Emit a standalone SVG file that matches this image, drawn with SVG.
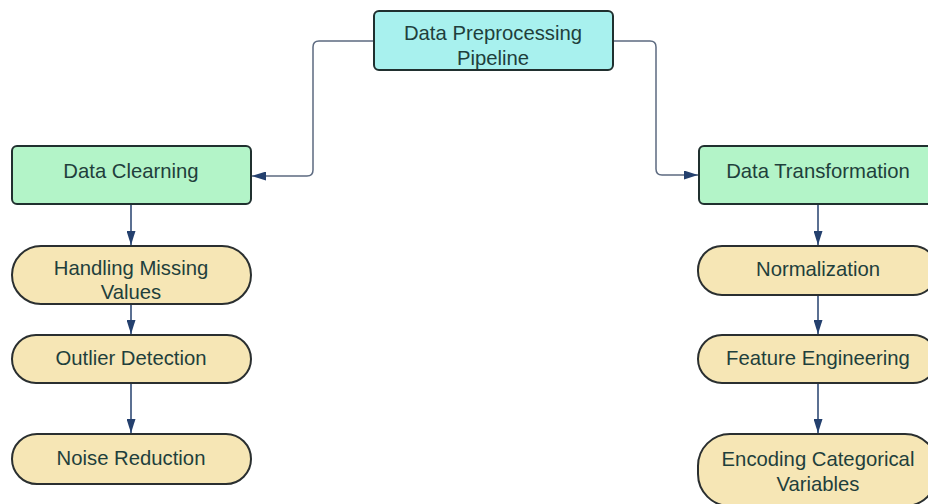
<svg xmlns="http://www.w3.org/2000/svg" width="928" height="504" viewBox="0 0 928 504">
<defs>
<marker id="ah" viewBox="0 0 14 9" refX="14" refY="4.5" markerWidth="14" markerHeight="9" markerUnits="userSpaceOnUse" orient="auto">
<path d="M0,0 L14,4.5 L0,9 z" fill="#24406e"/>
</marker>
<style>
.t{font-family:"Liberation Sans",Arial,sans-serif;font-size:20.3px;fill:#1f3f3c;text-anchor:middle}
.cyan{fill:#a8f1ee;stroke:#20302f;stroke-width:2}
.green{fill:#b3f4c8;stroke:#20302f;stroke-width:2}
.pill{fill:#f6e6b5;stroke:#2a2f30;stroke-width:2}
.c{fill:none;stroke:#5c6a80;stroke-width:1.5}
.a{fill:none;stroke:#24406e;stroke-width:1.5}
</style>
</defs>
<rect width="928" height="504" fill="#ffffff"/>
<g id="connectors">
<path class="c" d="M374,41 H319 Q313,41 313,47 V170 Q313,176 307,176 H252" marker-end="url(#ah)"/>
<path class="c" d="M613,41 H650 Q656,41 656,47 V169 Q656,175 662,175 H698" marker-end="url(#ah)"/>
<path class="a" d="M131,205 V245" marker-end="url(#ah)"/>
<path class="a" d="M131,304 V334" marker-end="url(#ah)"/>
<path class="a" d="M131,383 V433" marker-end="url(#ah)"/>
<path class="a" d="M818,205 V245" marker-end="url(#ah)"/>
<path class="a" d="M818,295 V334" marker-end="url(#ah)"/>
<path class="a" d="M818,383 V433" marker-end="url(#ah)"/>
</g>
<g id="pipeline">
<rect class="cyan" x="374" y="11" width="239" height="59" rx="5"/>
<text class="t" x="493" y="40">Data Preprocessing</text>
<text class="t" x="493" y="65">Pipeline</text>
</g>
<g id="cleaning">
<rect class="green" x="12" y="146" width="239" height="58" rx="5"/>
<text class="t" x="131" y="178">Data Clearning</text>
</g>
<g id="missing">
<rect class="pill" x="12" y="246" width="239" height="58" rx="29"/>
<text class="t" x="131" y="275">Handling Missing</text>
<text class="t" x="131" y="299">Values</text>
</g>
<g id="outlier">
<rect class="pill" x="12" y="335" width="239" height="48" rx="24"/>
<text class="t" x="131" y="365">Outlier Detection</text>
</g>
<g id="noise">
<rect class="pill" x="12" y="434" width="239" height="50" rx="25"/>
<text class="t" x="131" y="465">Noise Reduction</text>
</g>
<g id="transformation">
<rect class="green" x="699" y="146" width="238" height="58" rx="5"/>
<text class="t" x="818" y="178">Data Transformation</text>
</g>
<g id="normalization">
<rect class="pill" x="698" y="246" width="239" height="49" rx="24"/>
<text class="t" x="818" y="276">Normalization</text>
</g>
<g id="feature">
<rect class="pill" x="698" y="335" width="239" height="48" rx="24"/>
<text class="t" x="818" y="365">Feature Engineering</text>
</g>
<g id="encoding">
<rect class="pill" x="698" y="434" width="239" height="72" rx="32"/>
<text class="t" x="818" y="466">Encoding Categorical</text>
<text class="t" x="818" y="491">Variables</text>
</g>
</svg>
